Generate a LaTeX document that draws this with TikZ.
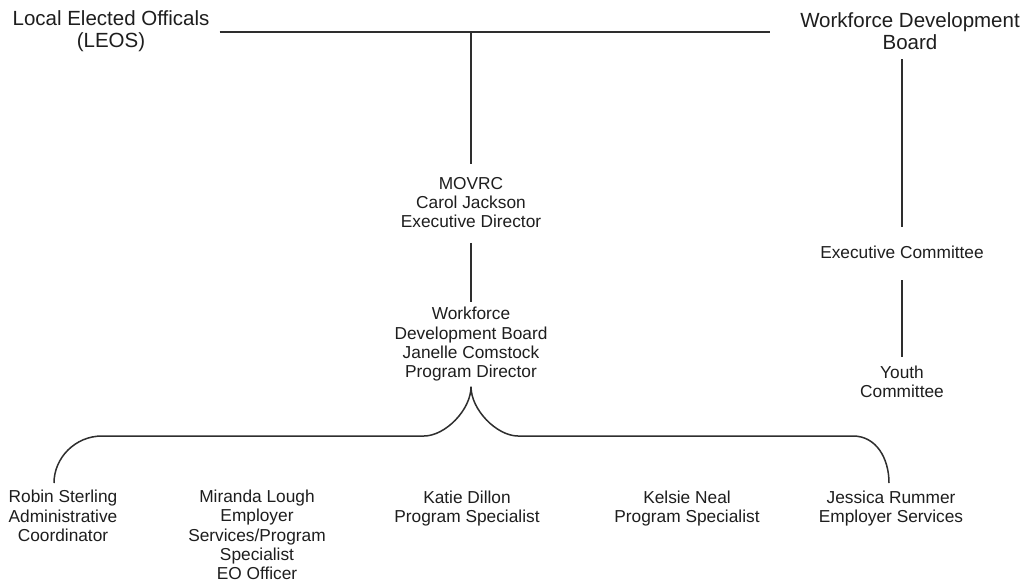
\documentclass[tikz,border=0pt]{standalone}
\usepackage{fontspec}
\setmainfont{Liberation Sans}
\definecolor{ink}{HTML}{1E1E1E}
\definecolor{wire}{HTML}{2E2E2E}
\begin{document}
\begin{tikzpicture}[x=1pt,y=-1pt,
  lbl/.style={inner sep=0pt,align=center,text=ink,font=\fontsize{17.3}{19.3}\selectfont},
  toplbl/.style={inner sep=0pt,align=center,text=ink,font=\fontsize{20.5}{22}\selectfont},
  link/.style={draw=wire,line width=1.5pt}]
\useasboundingbox[fill=white] (0,0) rectangle (1024,584);
% nodes
\node[toplbl] (leos) at (111,31.2) {Local Elected Officals\\(LEOS)};
\node[toplbl] (wdb) at (910,31) {Workforce Development\\Board};
\node[lbl] (movrc) at (471,202.5) {MOVRC\\Carol Jackson\\Executive Director};
\node[lbl] (wdbdir) at (471,344.2) {Workforce\\Development Board\\Janelle Comstock\\Program Director};
\node[lbl] (excom) at (902,252) {Executive Committee};
\node[lbl] (youth) at (902,382) {Youth\\Committee};
\node[lbl] (robin) at (63,516) {Robin Sterling\\Administrative\\Coordinator};
\node[lbl] (miranda) at (257,535) {Miranda Lough\\Employer\\Services/Program\\Specialist\\EO Officer};
\node[lbl] (katie) at (467,508.3) {Katie Dillon\\Program Specialist};
\node[lbl] (kelsie) at (687,508.3) {Kelsie Neal\\Program Specialist};
\node[lbl] (jessica) at (891,508.3) {Jessica Rummer\\Employer Services};
% connectors
\draw[link,shorten <=10pt,shorten >=30pt] (leos.east |- 0,32) -- (wdb.west |- 0,32);
\coordinate (junc) at (movrc.north |- 0,32);
\draw[link,shorten >=12.8pt] (junc) -- (movrc.north);
\draw[link,shorten <=14.8pt,shorten >=4.6pt] (movrc.south) -- (wdbdir.north);
\draw[link,shorten <=9.6pt,shorten >=18.8pt] (excom.north |- wdb.south) -- (excom.north);
\draw[link,shorten <=21.8pt,shorten >=8.8pt] (excom.south) -- (youth.north);
% brace
\coordinate (tip) at ([yshift=-5.2pt]wdbdir.south);
\coordinate (bl) at (54,483);
\coordinate (br) at (889,483);
\draw[link] (bl) .. controls (54,458) and (75,436) .. (102,436)
  -- (424,436) .. controls (445,436) and (471,410) .. (tip)
  .. controls (471,410) and (497,436) .. (518,436)
  -- (853,436) .. controls (876,436) and (889,458) .. (br);
\end{tikzpicture}
\end{document}
